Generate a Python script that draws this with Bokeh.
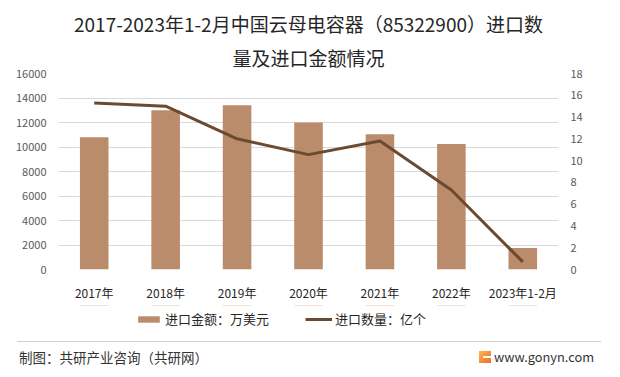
from bokeh.plotting import figure
from bokeh.models import (Range1d, LinearAxis, FixedTicker, Legend, LegendItem,
                          ColumnDataSource, Title, Div, FactorRange)
from bokeh.layouts import column
from bokeh.embed import file_html
from bokeh.resources import INLINE

# ---- data ----
years = ["2017年", "2018年", "2019年", "2020年", "2021年", "2022年", "2023年1-2月"]
amount = [10800, 13000, 13400, 12000, 11050, 10250, 1750]      # 进口金额：万美元
quantity = [15.3, 15.0, 12.0, 10.55, 11.8, 7.3, 0.7]           # 进口数量：亿个
left_ticks = [0, 2000, 4000, 6000, 8000, 10000, 12000, 14000, 16000]
right_ticks = [0, 2, 4, 6, 8, 10, 12, 14, 16, 18]
title_lines = ["2017-2023年1-2月中国云母电容器（85322900）进口数", "量及进口金额情况"]
series_names = ["进口金额：万美元", "进口数量：亿个"]
source_note = "制图：共研产业咨询（共研网）"
site = "www.gonyn.com"

FONT = "Noto Sans CJK SC"
BAR_COLOR = "#BA8C6B"
LINE_COLOR = "#6B4A30"

src = ColumnDataSource(dict(year=years, amount=amount, quantity=quantity))

p = figure(width=620, height=305, x_range=years, y_range=Range1d(0, 16000),
           output_backend="svg", toolbar_location=None,
           min_border_left=58, min_border_right=62, min_border_top=73,
           min_border_bottom=36)
p.extra_y_ranges = {"right": Range1d(0, 18)}
p.title.visible = False

for txt, so in [(title_lines[1], 6), (title_lines[0], 4)]:
    p.add_layout(Title(text=txt, align="center", text_font=FONT, text_font_size="19px",
                       text_font_style="normal", text_color="#262626", standoff=so),
                 "above")

bars = p.vbar(x="year", top="amount", width=0.4, source=src,
              fill_color=BAR_COLOR, line_color=None)
line = p.line(x="year", y="quantity", source=src, y_range_name="right",
              line_color=LINE_COLOR, line_width=3, line_join="round")

p.outline_line_color = None
p.xgrid.grid_line_color = None
p.ygrid.grid_line_color = "#D9D9D9"
p.ygrid.grid_line_width = 1

# left axis
ya = p.yaxis[0]
ya.ticker = FixedTicker(ticks=left_ticks)
ya.axis_line_color = None
ya.major_tick_line_color = None
ya.minor_tick_line_color = None
ya.major_tick_out = 0
ya.major_tick_in = 0
ya.major_label_standoff = 12
ya.major_label_text_font = FONT
ya.major_label_text_font_size = "11px"
ya.major_label_text_color = "#595959"

# right axis
ra = LinearAxis(y_range_name="right", ticker=FixedTicker(ticks=right_ticks))
ra.axis_line_color = None
ra.major_tick_line_color = None
ra.minor_tick_line_color = None
ra.major_tick_out = 0
ra.major_tick_in = 0
ra.major_label_standoff = 12
ra.major_label_text_font = FONT
ra.major_label_text_font_size = "11px"
ra.major_label_text_color = "#595959"
p.add_layout(ra, "right")

# bottom axis
xa = p.xaxis[0]
xa.axis_line_color = None
xa.major_tick_line_color = None
xa.major_tick_out = 0
xa.major_tick_in = 0
xa.major_label_standoff = 14
xa.major_label_text_font = FONT
xa.major_label_text_font_size = "12px"
xa.major_label_text_color = "#262626"

# ---- legend strip: same series, drawn out of view so only the legend shows ----
pl = figure(width=620, height=30, x_range=FactorRange(factors=years),
            y_range=Range1d(-2, -1),
            output_backend="svg", toolbar_location=None, min_border=0,
            x_axis_location=None, y_axis_location=None)
pl.grid.visible = False
pl.outline_line_color = None
leg_bar = pl.vbar(x="year", top="amount", width=0.4, source=src,
                  fill_color=BAR_COLOR, line_color=None)
leg_line = pl.line(x="year", y="quantity", source=src,
                   line_color=LINE_COLOR, line_width=3)
legend = Legend(items=[LegendItem(label=series_names[0], renderers=[leg_bar]),
                       LegendItem(label=series_names[1], renderers=[leg_line])],
                orientation="horizontal", location=(77, 7), margin=0,
                border_line_color=None, background_fill_alpha=0,
                padding=4, spacing=36, label_standoff=3,
                glyph_width=27, glyph_height=8,
                label_text_font=FONT, label_text_font_size="13px",
                label_text_color="#262626")
pl.add_layout(legend)

# ---- footer ----
footer_html = f"""
<div style="position:relative;width:620px;height:42px;font-family:'{FONT}';
            font-size:13.5px;color:#333333;">
  <span style="position:absolute;display:block;left:12px;top:1px;width:584px;height:1px;
               background:#D0D0D0;"></span>
  <span style="position:absolute;left:14px;top:7px;line-height:20px;
               white-space:nowrap;">{source_note}</span>
  <span style="position:absolute;display:block;left:474px;top:11px;width:12px;height:12px;
               background:linear-gradient(135deg,#F8B84E,#EE6B2E);"></span>
  <span style="position:absolute;display:block;left:478px;top:16px;width:8px;height:2px;
               background:#ffffff;"></span>
  <span style="position:absolute;right:31px;top:7px;line-height:20px;font-size:12.8px;
               white-space:nowrap;">{site}</span>
</div>
"""
footer = Div(text=footer_html, width=620, height=42)

layout = column(p, pl, footer, spacing=0)
open("out.html", "w").write(file_html(layout, INLINE))
